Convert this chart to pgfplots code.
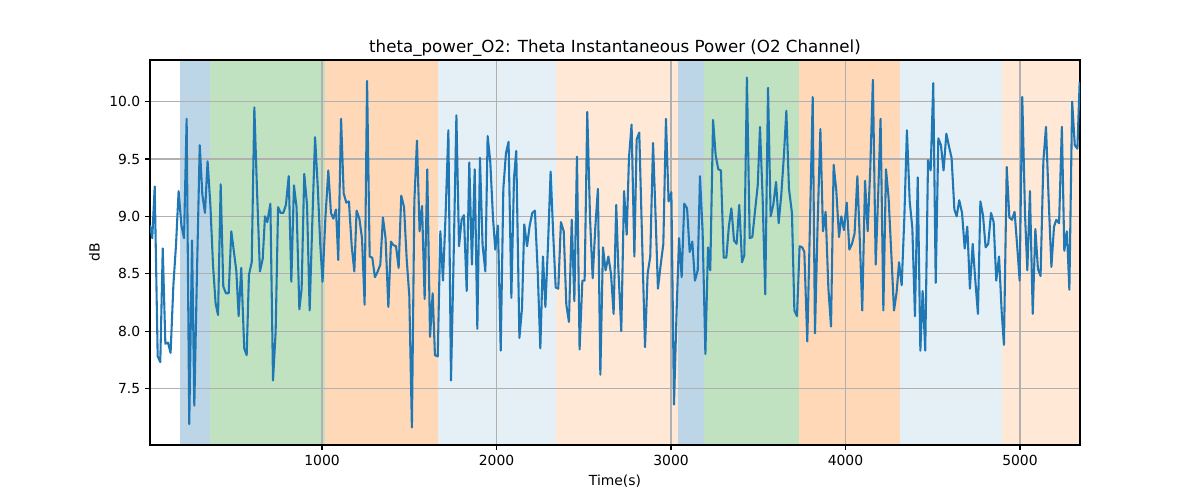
\documentclass[border=0pt]{standalone}
\usepackage{fontspec}
\setmainfont{DejaVu Sans}
\usepackage{pgfplots}
\pgfplotsset{compat=1.18}
\definecolor{tabblue}{RGB}{31,119,180}
\definecolor{taborange}{RGB}{255,127,14}
\definecolor{tabgreen}{RGB}{44,160,44}
\definecolor{gridgray}{RGB}{176,176,176}

\begin{document}
\begin{tikzpicture}
\begin{axis}[
    set layers,
    scale only axis,
    width=669.6pt, height=277.2pt,
    xmin=14, xmax=5344,
    ymin=7.0075, ymax=10.3625,
    xtick={1000,2000,3000,4000,5000},
    ytick={7.5,8.0,8.5,9.0,9.5,10.0},
    yticklabel style={/pgf/number format/.cd, fixed, fixed zerofill, precision=1},
    xticklabel style={/pgf/number format/1000 sep={}},
    /pgf/number format/assume math mode=true,
    tick label style={font=\fontsize{10}{12}\selectfont},
    label style={font=\fontsize{10}{12}\selectfont},
    title style={font=\fontsize{12}{14}\selectfont, yshift=-6.8pt},
    title={theta\_power\_O2: Theta Instantaneous Power (O2 Channel)},
    xlabel={Time(s)},
    ylabel={dB},
    tick align=outside,
    major tick length=3.5pt,
    xtick pos=left, ytick pos=left,
    grid=major,
    grid style={gridgray, line width=0.8pt},
    axis line style={line width=0.8pt},
    every tick/.style={black, line width=0.8pt},
    myspan/.style={fill=#1, draw=#1},
]
% shaded segments, kept under the grid
\begin{pgfonlayer}{axis background}
\addplot[myspan=tabblue!30!white] coordinates {(186,7.0075) (358,7.0075) (358,10.3625) (186,10.3625)} -- cycle;
\addplot[myspan=tabgreen!30!white] coordinates {(358,7.0075) (1017,7.0075) (1017,10.3625) (358,10.3625)} -- cycle;
\addplot[myspan=taborange!30!white] coordinates {(1017,7.0075) (1664,7.0075) (1664,10.3625) (1017,10.3625)} -- cycle;
\addplot[myspan=tabblue!12!white] coordinates {(1664,7.0075) (2341,7.0075) (2341,10.3625) (1664,10.3625)} -- cycle;
\addplot[myspan=taborange!17!white] coordinates {(2341,7.0075) (3040,7.0075) (3040,10.3625) (2341,10.3625)} -- cycle;
\addplot[myspan=tabblue!30!white] coordinates {(3040,7.0075) (3189,7.0075) (3189,10.3625) (3040,10.3625)} -- cycle;
\addplot[myspan=tabgreen!30!white] coordinates {(3189,7.0075) (3735,7.0075) (3735,10.3625) (3189,10.3625)} -- cycle;
\addplot[myspan=taborange!30!white] coordinates {(3735,7.0075) (4312,7.0075) (4312,10.3625) (3735,10.3625)} -- cycle;
\addplot[myspan=tabblue!12!white] coordinates {(4312,7.0075) (4897,7.0075) (4897,10.3625) (4312,10.3625)} -- cycle;
\addplot[myspan=taborange!17!white] coordinates {(4897,7.0075) (5344,7.0075) (5344,10.3625) (4897,10.3625)} -- cycle;
\end{pgfonlayer}

% theta power signal
\addplot[tabblue, line width=1.5pt, line join=round, mark=none] coordinates {
(14,8.92)(27,8.81)(41,9.26)(58,7.78)(73,7.73)(87,8.72)(102,7.89)(117,7.90)(132,7.81)(148,8.40)
(163,8.75)(178,9.22)(194,8.92)(209,8.81)(224,9.85)(239,7.19)(255,8.79)(268,7.35)(283,8.49)(299,9.62)
(314,9.19)(329,9.03)(344,9.48)(360,9.10)(375,8.58)(390,8.24)(404,8.14)(419,9.28)(434,8.39)(449,8.33)
(465,8.33)(480,8.87)(495,8.69)(509,8.52)(522,8.13)(537,8.55)(554,7.85)
(568,7.79)(581,8.49)(597,8.60)(612,9.95)(627,9.24)(644,8.52)(660,8.63)(673,9.00)(686,8.95)(704,9.11)
(719,7.57)(734,7.99)(748,9.08)(763,9.03)(778,9.03)(793,9.10)(809,9.35)(824,8.43)(839,9.27)(854,9.08)
(870,8.19)(883,8.37)(898,9.37)(914,9.10)(929,8.18)(944,8.94)(960,9.69)(975,9.27)(990,8.75)(1003,8.43)
(1019,8.98)(1036,9.40)(1051,9.03)(1065,8.98)(1080,9.06)
(1093,8.62)(1109,9.85)(1124,9.20)(1139,9.12)(1154,9.13)(1170,8.74)(1185,8.52)(1198,9.05)(1214,8.98)(1229,8.81)
(1244,8.23)(1258,10.18)(1273,8.65)(1288,8.64)(1303,8.47)(1319,8.52)(1334,8.58)(1349,8.99)(1364,8.81)(1380,8.21)
(1395,8.78)(1408,8.75)(1424,8.74)(1439,8.55)(1454,9.18)(1470,9.08)(1485,8.63)(1500,8.31)(1515,7.16)(1529,9.13)
(1544,9.66)(1559,8.87)(1573,9.09)(1588,8.28)(1603,9.41)(1619,7.95)
(1634,8.33)(1647,7.79)(1663,7.78)(1678,8.87)(1693,8.44)(1708,9.01)(1724,9.75)(1739,7.57)(1754,8.63)(1770,9.88)
(1785,8.74)(1800,8.97)(1813,9.01)(1829,8.35)(1844,9.47)(1859,8.58)(1875,9.41)(1890,8.02)(1905,9.51)(1920,8.75)
(1936,8.52)(1949,9.70)(1964,9.48)(1980,8.98)(1993,8.71)(2008,8.92)(2024,7.83)(2039,9.24)(2054,9.55)(2069,9.65)
(2085,8.29)(2100,9.33)(2113,9.57)(2131,7.94)
(2146,8.20)(2159,8.93)(2175,8.74)(2190,8.92)(2205,9.03)(2220,9.05)(2236,8.52)(2251,7.85)(2266,8.65)(2280,8.21)
(2295,8.75)(2310,9.39)(2325,8.84)(2339,8.38)(2354,8.37)(2369,8.95)(2385,8.87)(2400,8.23)(2415,8.08)(2431,8.97)
(2446,8.26)(2461,9.52)(2476,7.84)(2492,8.44)(2505,8.44)(2520,9.91)(2536,8.98)(2551,8.46)(2566,8.90)(2581,9.24)
(2595,7.62)(2610,8.73)(2625,8.53)(2641,8.65)(2656,8.50)(2671,8.15)(2686,9.10)
(2698,8.55)(2715,8.00)(2731,9.22)(2746,8.84)(2759,9.51)(2774,9.80)(2790,8.65)(2803,9.67)(2818,9.73)(2834,8.81)
(2851,7.86)(2866,8.50)(2881,8.65)(2897,9.64)(2912,8.98)(2925,8.37)(2941,8.58)(2956,8.76)(2971,9.85)(2986,9.13)
(3002,9.21)(3017,7.36)(3032,8.17)(3046,8.81)(3061,8.47)(3076,9.11)(3092,9.07)(3107,8.69)(3122,8.78)(3137,8.44)
(3153,8.53)(3166,9.35)(3181,8.87)(3197,7.80)
(3212,8.73)(3225,8.53)(3241,9.84)(3256,9.53)(3271,9.41)(3286,9.40)(3302,8.64)(3317,8.64)(3332,8.92)(3346,9.07)
(3361,8.79)(3376,8.76)(3391,9.10)(3407,8.60)(3420,8.66)(3435,10.21)(3451,8.81)(3466,8.82)(3481,9.04)(3497,9.27)
(3510,9.78)(3525,9.16)(3540,8.32)(3556,10.12)(3571,9.00)(3586,9.10)(3602,9.30)(3617,8.94)(3632,9.19)(3647,9.53)
(3661,9.92)(3676,9.24)(3693,9.03)(3707,8.18)(3722,8.13)(3737,8.74)(3752,8.73)
(3764,8.69)(3781,7.91)(3797,8.98)(3812,10.04)(3825,7.98)(3840,8.92)(3856,9.76)(3871,8.87)(3886,9.04)(3902,8.37)
(3917,8.04)(3932,9.45)(3947,9.23)(3963,8.82)(3976,9.00)(3991,8.88)(4007,9.12)(4022,8.71)(4037,8.76)(4052,8.85)
(4068,9.35)(4083,8.75)(4096,8.18)(4112,9.31)(4127,8.87)(4142,9.42)(4157,10.19)(4173,8.58)(4188,9.22)(4201,9.85)
(4217,8.18)(4232,9.41)(4247,9.16)(4263,8.66)(4278,8.18)
(4293,8.34)(4307,8.60)(4322,8.40)(4337,8.98)(4352,9.75)(4368,9.13)(4383,8.90)(4398,8.13)(4414,9.34)(4429,7.83)
(4442,8.35)(4457,7.83)(4473,9.49)(4488,9.40)(4503,10.16)(4517,8.42)(4532,9.68)(4547,9.62)(4562,9.40)(4578,9.72)
(4593,9.61)(4608,9.51)(4624,9.06)(4637,9.00)(4652,9.14)(4668,9.03)(4683,8.72)(4698,8.91)(4713,8.37)(4729,8.76)
(4744,8.44)(4759,8.15)(4773,9.13)(4788,9.01)(4803,8.73)(4818,8.76)
(4834,9.03)(4849,8.95)(4864,8.44)(4880,8.65)(4895,8.17)(4908,7.88)(4924,9.43)(4939,8.99)(4954,8.97)(4969,9.04)
(4985,8.72)(4998,8.44)(5013,10.04)(5029,9.01)(5042,8.53)(5057,9.22)(5073,8.15)(5088,8.89)(5103,8.54)(5118,8.48)
(5134,9.48)(5149,9.78)(5164,9.16)(5180,8.56)(5195,8.91)(5208,8.97)(5224,8.94)(5240,9.78)(5254,8.70)(5269,8.87)
(5283,8.36)(5299,10.00)(5314,9.62)(5329,9.59)(5342,10.17)
};
\end{axis}
% page = 1200x500 px at 0.72pt per px
\pgfresetboundingbox
\path[use as bounding box] (-108pt,-39.6pt) rectangle (756pt,320.4pt);
\end{tikzpicture}
\end{document}
